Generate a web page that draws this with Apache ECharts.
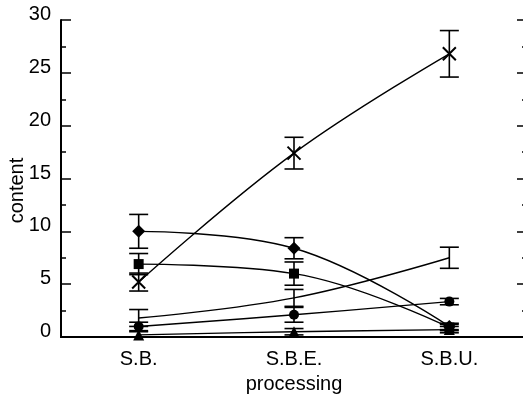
<!DOCTYPE html>
<html>
<head>
<meta charset="utf-8">
<script src="https://cdn.jsdelivr.net/npm/echarts@6/dist/echarts.min.js"></script>
<style>html,body{margin:0;padding:0;background:#fff}#c{width:523px;height:394px}</style>
</head>
<body>
<div id="c"></div>
<script>
var categories = ['S.B.', 'S.B.E.', 'S.B.U.'];
var yTicks = [0, 5, 10, 15, 20, 25, 30];
var crossVals = [5.2, 17.4, 26.8];
var crossErr = [0.85, 1.5, 2.2];
var diamondVals = [10.0, 8.4, 1.0];
var diamondErr = [1.6, 1.0, 0.3];
var squareVals = [6.9, 6.0, 0.9];
var squareErr = [1.0, 1.1, 0.3];
var plainVals = [1.8, 3.7, 7.5];
var plainErr = [0.8, 0.8, 1.0];
var circleVals = [1.0, 2.1, 3.35];
var circleErr = [0.4, 0.7, 0.3];
var triangleVals = [0.2, 0.5, 0.7];
var triangleErr = [0.3, 0.3, 0.3];

var FONT = 'Liberation Sans';
var chart = echarts.init(document.getElementById('c'), null, {renderer: 'canvas'});

function errData(vals, errs) {
  return vals.map(function (v, i) { return [i, Math.max(0, v - errs[i]), v + errs[i]]; });
}
function errSeries(vals, errs) {
  return {
    type: 'custom',
    xAxisIndex: 0, yAxisIndex: 0,
    z: 1,
    silent: true,
    data: errData(vals, errs),
    renderItem: function (params, api) {
      var x = api.value(0);
      var hi = api.coord([x, api.value(2)]);
      var lo = api.coord([x, api.value(1)]);
      var hw = 9.5;
      var st = {stroke: '#000', lineWidth: 1.6};
      return {
        type: 'group',
        children: [
          {type: 'line', shape: {x1: hi[0], y1: hi[1], x2: lo[0], y2: lo[1]}, style: st},
          {type: 'line', shape: {x1: hi[0] - hw, y1: hi[1], x2: hi[0] + hw, y2: hi[1]}, style: st},
          {type: 'line', shape: {x1: lo[0] - hw, y1: lo[1], x2: lo[0] + hw, y2: lo[1]}, style: st}
        ]
      };
    }
  };
}
function lineSeries(vals, symbol, size, extra) {
  var s = {
    type: 'line',
    data: vals,
    smooth: 0.4,
    symbol: symbol,
    symbolSize: size,
    showAllSymbol: true,
    z: 3,
    lineStyle: {color: '#000', width: 1.4},
    itemStyle: {color: '#000'}
  };
  if (extra) { for (var k in extra) s[k] = extra[k]; }
  return s;
}

var axisLineStyle = {color: '#000', width: 2};
var option = {
  animation: false,
  backgroundColor: '#fff',
  grid: {left: 61, top: 20, width: 466, height: 317, containLabel: false, outerBoundsMode: 'none'},
  xAxis: [{
    type: 'category',
    data: categories,
    position: 'bottom',
    boundaryGap: true,
    name: 'processing',
    nameLocation: 'middle',
    nameGap: 37,
    nameMoveOverlap: false,
    nameTextStyle: {fontFamily: FONT, fontSize: 20, color: '#000'},
    axisLine: {lineStyle: axisLineStyle},
    axisTick: {inside: true, length: 4, lineStyle: {color: '#000', width: 1.2}},
    axisLabel: {fontFamily: FONT, fontSize: 20, color: '#000', margin: 12},
    splitLine: {show: false}
  }, {
    type: 'category',
    data: categories,
    position: 'top',
    boundaryGap: true,
    axisLine: {lineStyle: axisLineStyle},
    axisTick: {inside: true, alignWithLabel: true, length: 9, lineStyle: {color: '#000', width: 1.5}},
    axisLabel: {show: false},
    splitLine: {show: false}
  }],
  yAxis: [{
    type: 'value',
    min: yTicks[0],
    max: yTicks[yTicks.length - 1],
    interval: 5,
    name: 'content',
    nameLocation: 'middle',
    nameRotate: 90,
    nameGap: 34,
    nameMoveOverlap: false,
    nameTextStyle: {fontFamily: FONT, fontSize: 20, color: '#000', padding: [0, 24, 0, 0]},
    axisLine: {show: true, lineStyle: axisLineStyle},
    axisTick: {show: true, inside: true, length: 10, lineStyle: {color: '#000', width: 1.5}},
    minorTick: {show: true, splitNumber: 2, length: 5, lineStyle: {color: '#000', width: 1.5}},
    axisLabel: {fontFamily: FONT, fontSize: 20, color: '#000', margin: 10, verticalAlign: 'bottom', lineHeight: 11},
    splitLine: {show: false}
  }, {
    type: 'value',
    position: 'right',
    min: yTicks[0],
    max: yTicks[yTicks.length - 1],
    interval: 5,
    axisLine: {show: true, lineStyle: axisLineStyle},
    axisTick: {show: true, inside: true, length: 10, lineStyle: {color: '#000', width: 1.5}},
    minorTick: {show: true, splitNumber: 2, length: 5, lineStyle: {color: '#000', width: 1.5}},
    axisLabel: {show: false},
    splitLine: {show: false}
  }],
  series: [
    errSeries(crossVals, crossErr),
    errSeries(diamondVals, diamondErr),
    errSeries(squareVals, squareErr),
    errSeries(plainVals, plainErr),
    errSeries(circleVals, circleErr),
    errSeries(triangleVals, triangleErr),
    lineSeries(crossVals, 'path://M0,0L10,10M10,0L0,10', 13, {itemStyle: {color: 'none', borderColor: '#000', borderWidth: 2}}),
    lineSeries(diamondVals, 'diamond', 13),
    lineSeries(squareVals, 'rect', 10),
    lineSeries(plainVals, 'none', 0),
    lineSeries(circleVals, 'circle', 10),
    lineSeries(triangleVals, 'triangle', 11)
  ]
};
chart.setOption(option);
</script>
</body>
</html>
